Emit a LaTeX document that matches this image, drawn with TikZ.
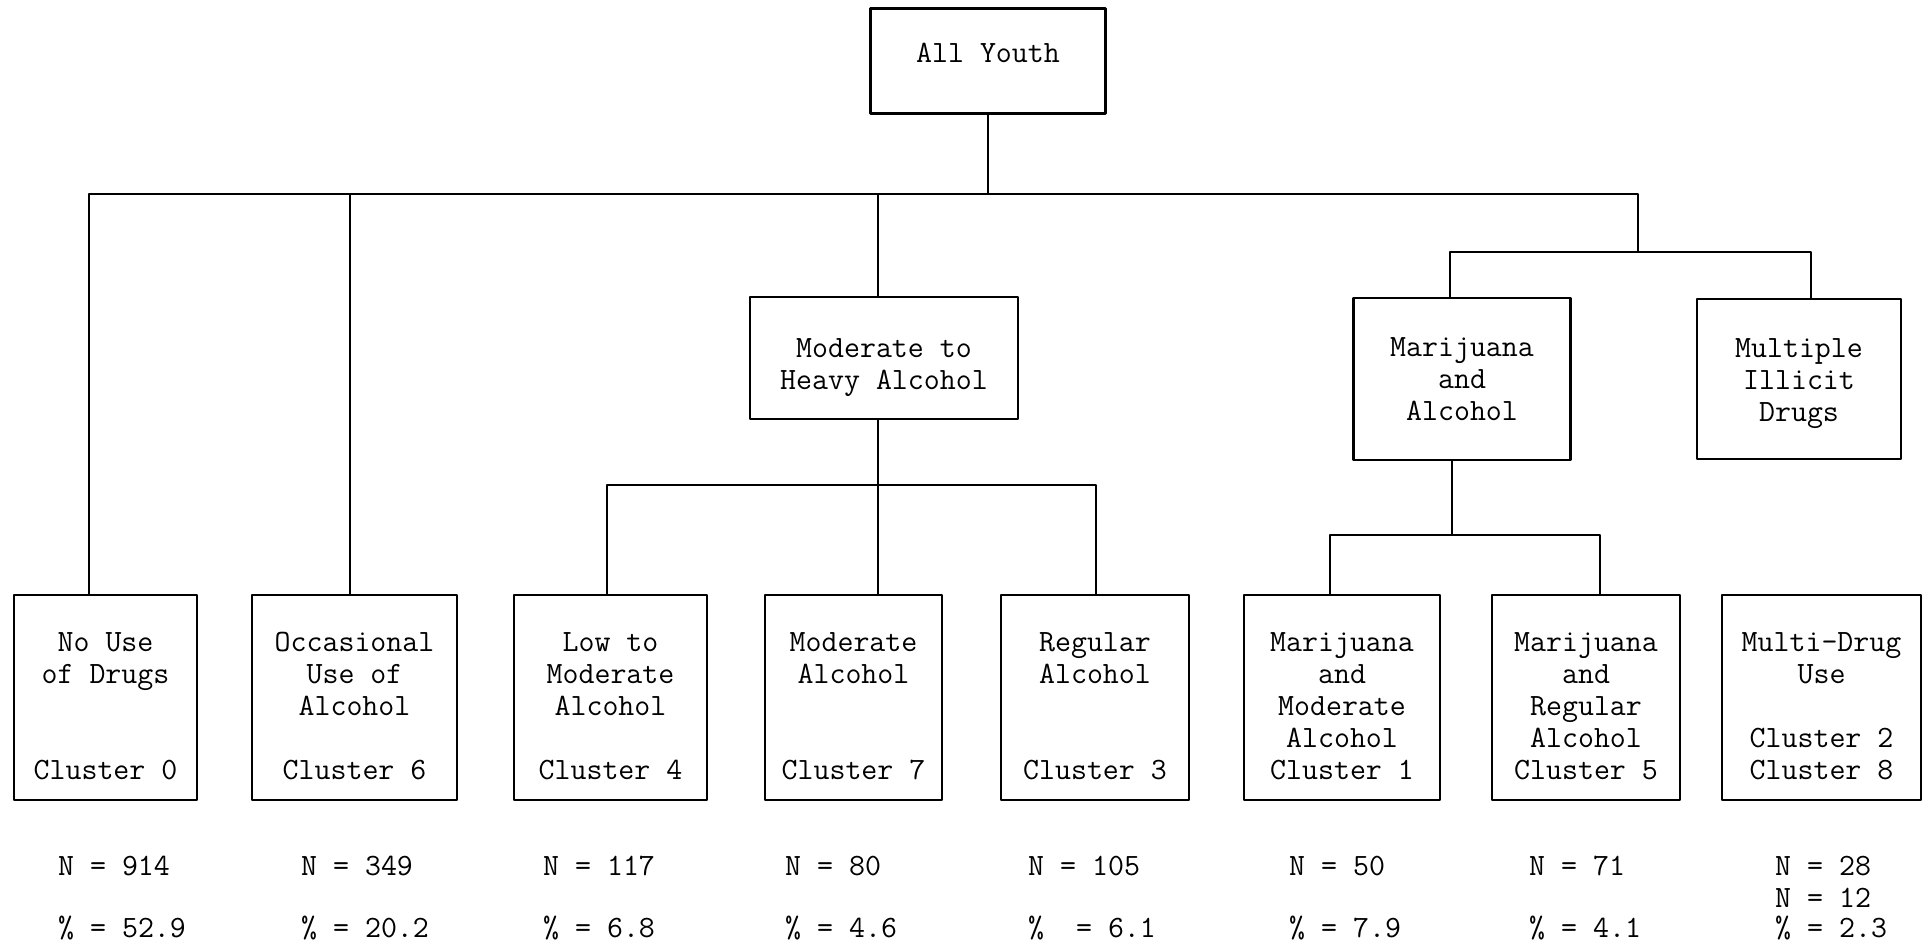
\documentclass[tikz,border=0pt]{standalone}
\usepackage{tikz}

\tikzset{
  box/.style={draw, line width=2.4pt, inner sep=0pt, align=center},
  link/.style={line width=2pt},
  count/.style={anchor=west, inner sep=0pt}
}

\begin{document}
\begin{tikzpicture}[x=1pt, y=-1pt, line cap=round, line join=round,
  font=\ttfamily\fontsize{31}{32}\selectfont]
  \useasboundingbox (0,0) rectangle (1932,945);
  % top
  \node[box, text depth=17pt, minimum width=235pt, minimum height=105pt] (youth) at (988,61) {All Youth};
  % second level
  \node[box, text height=69pt, text depth=7pt, minimum width=268pt, minimum height=122pt] (modHeavy) at (884,358) {Moderate to\\Heavy Alcohol};
  \node[box, minimum width=217pt, minimum height=162pt] (marAlc) at (1462,379) {Marijuana\\and\\Alcohol};
  \node[box, text height=91pt, text depth=7pt, minimum width=204pt, minimum height=160pt] (multi) at (1799,379) {Multiple\\Illicit\\Drugs};
  % clusters
  \begin{scope}[every node/.append style={text height=163pt, text depth=0pt, minimum height=205pt}]
  \node[box, minimum width=183pt] (c0) at (105.5,697.5) {No Use\\of Drugs\\~\\~\\Cluster 0};
  \node[box, minimum width=205pt] (c6) at (354.5,697.5) {Occasional\\Use of\\Alcohol\\~\\Cluster 6};
  \node[box, minimum width=193pt] (c4) at (610.5,697.5) {Low to\\Moderate\\Alcohol\\~\\Cluster 4};
  \node[box, minimum width=177pt] (c7) at (853.5,697.5) {Moderate\\Alcohol\\~\\~\\Cluster 7};
  \node[box, minimum width=188pt] (c3) at (1095,697.5) {Regular\\Alcohol\\~\\~\\Cluster 3};
  \node[box, minimum width=196pt] (c1) at (1342,697.5) {Marijuana\\and\\Moderate\\Alcohol\\Cluster 1};
  \node[box, minimum width=188pt] (c5) at (1586,697.5) {Marijuana\\and\\Regular\\Alcohol\\Cluster 5};
  \node[box, minimum width=199pt] (c28) at (1821.5,697.5) {Multi-Drug\\Use\\~\\Cluster 2\\Cluster 8};
  \end{scope}

  % junctions
  \coordinate (j0) at (988,194);
  \coordinate (j1) at (1638,252);
  \coordinate (j2) at (878,485);
  \coordinate (j3) at (1452,535);

  % tree lines
  \draw[link] (youth.south) -- (j0);
  \draw[link] ([xshift=-16.5pt]c0.north) |- (j1 |- j0) -- (j1);
  \draw[link] ([xshift=-4.5pt]c6.north) -- ([xshift=-4.5pt]c6.north |- j0);
  \draw[link] ([xshift=-6pt]modHeavy.north) -- ([xshift=-6pt]modHeavy.north |- j0);
  \draw[link] ([xshift=-12pt]marAlc.north) |- (j1) -| ([xshift=12pt]multi.north);
  \draw[link] ([xshift=-6pt]modHeavy.south) -- ([xshift=24.5pt]c7.north);
  \draw[link] ([xshift=-3.5pt]c4.north) |- (j2) -| ([xshift=1pt]c3.north);
  \draw[link] ([xshift=-10pt]marAlc.south) -- (j3);
  \draw[link] ([xshift=-12pt]c1.north) |- (j3) -| ([xshift=14pt]c5.north);

  % counts
  \node[count] (n0) at (58,866) {N = 914};
  \node[count] (p0) at (58,928) {\% = 52.9};
  \node[count] (n6) at (301,866) {N = 349};
  \node[count] (p6) at (301,928) {\% = 20.2};
  \node[count] (n4) at (543,866) {N = 117};
  \node[count] (p4) at (543,928) {\% = 6.8};
  \node[count] (n7) at (785,866) {N = 80};
  \node[count] (p7) at (785,928) {\% = 4.6};
  \node[count] (n3) at (1028,866) {N = 105};
  \node[count] (p3) at (1028,928) {\%\ \ = 6.1};
  \node[count] (n1) at (1289,866) {N = 50};
  \node[count] (p1) at (1289,928) {\% = 7.9};
  \node[count] (n5) at (1529,866) {N = 71};
  \node[count] (p5) at (1529,928) {\% = 4.1};
  \node[count] (n2) at (1775,866) {N = 28};
  \node[count] (n8) at (1775,898) {N = 12};
  \node[count] (p28) at (1775,928) {\% = 2.3};
\end{tikzpicture}
\end{document}
